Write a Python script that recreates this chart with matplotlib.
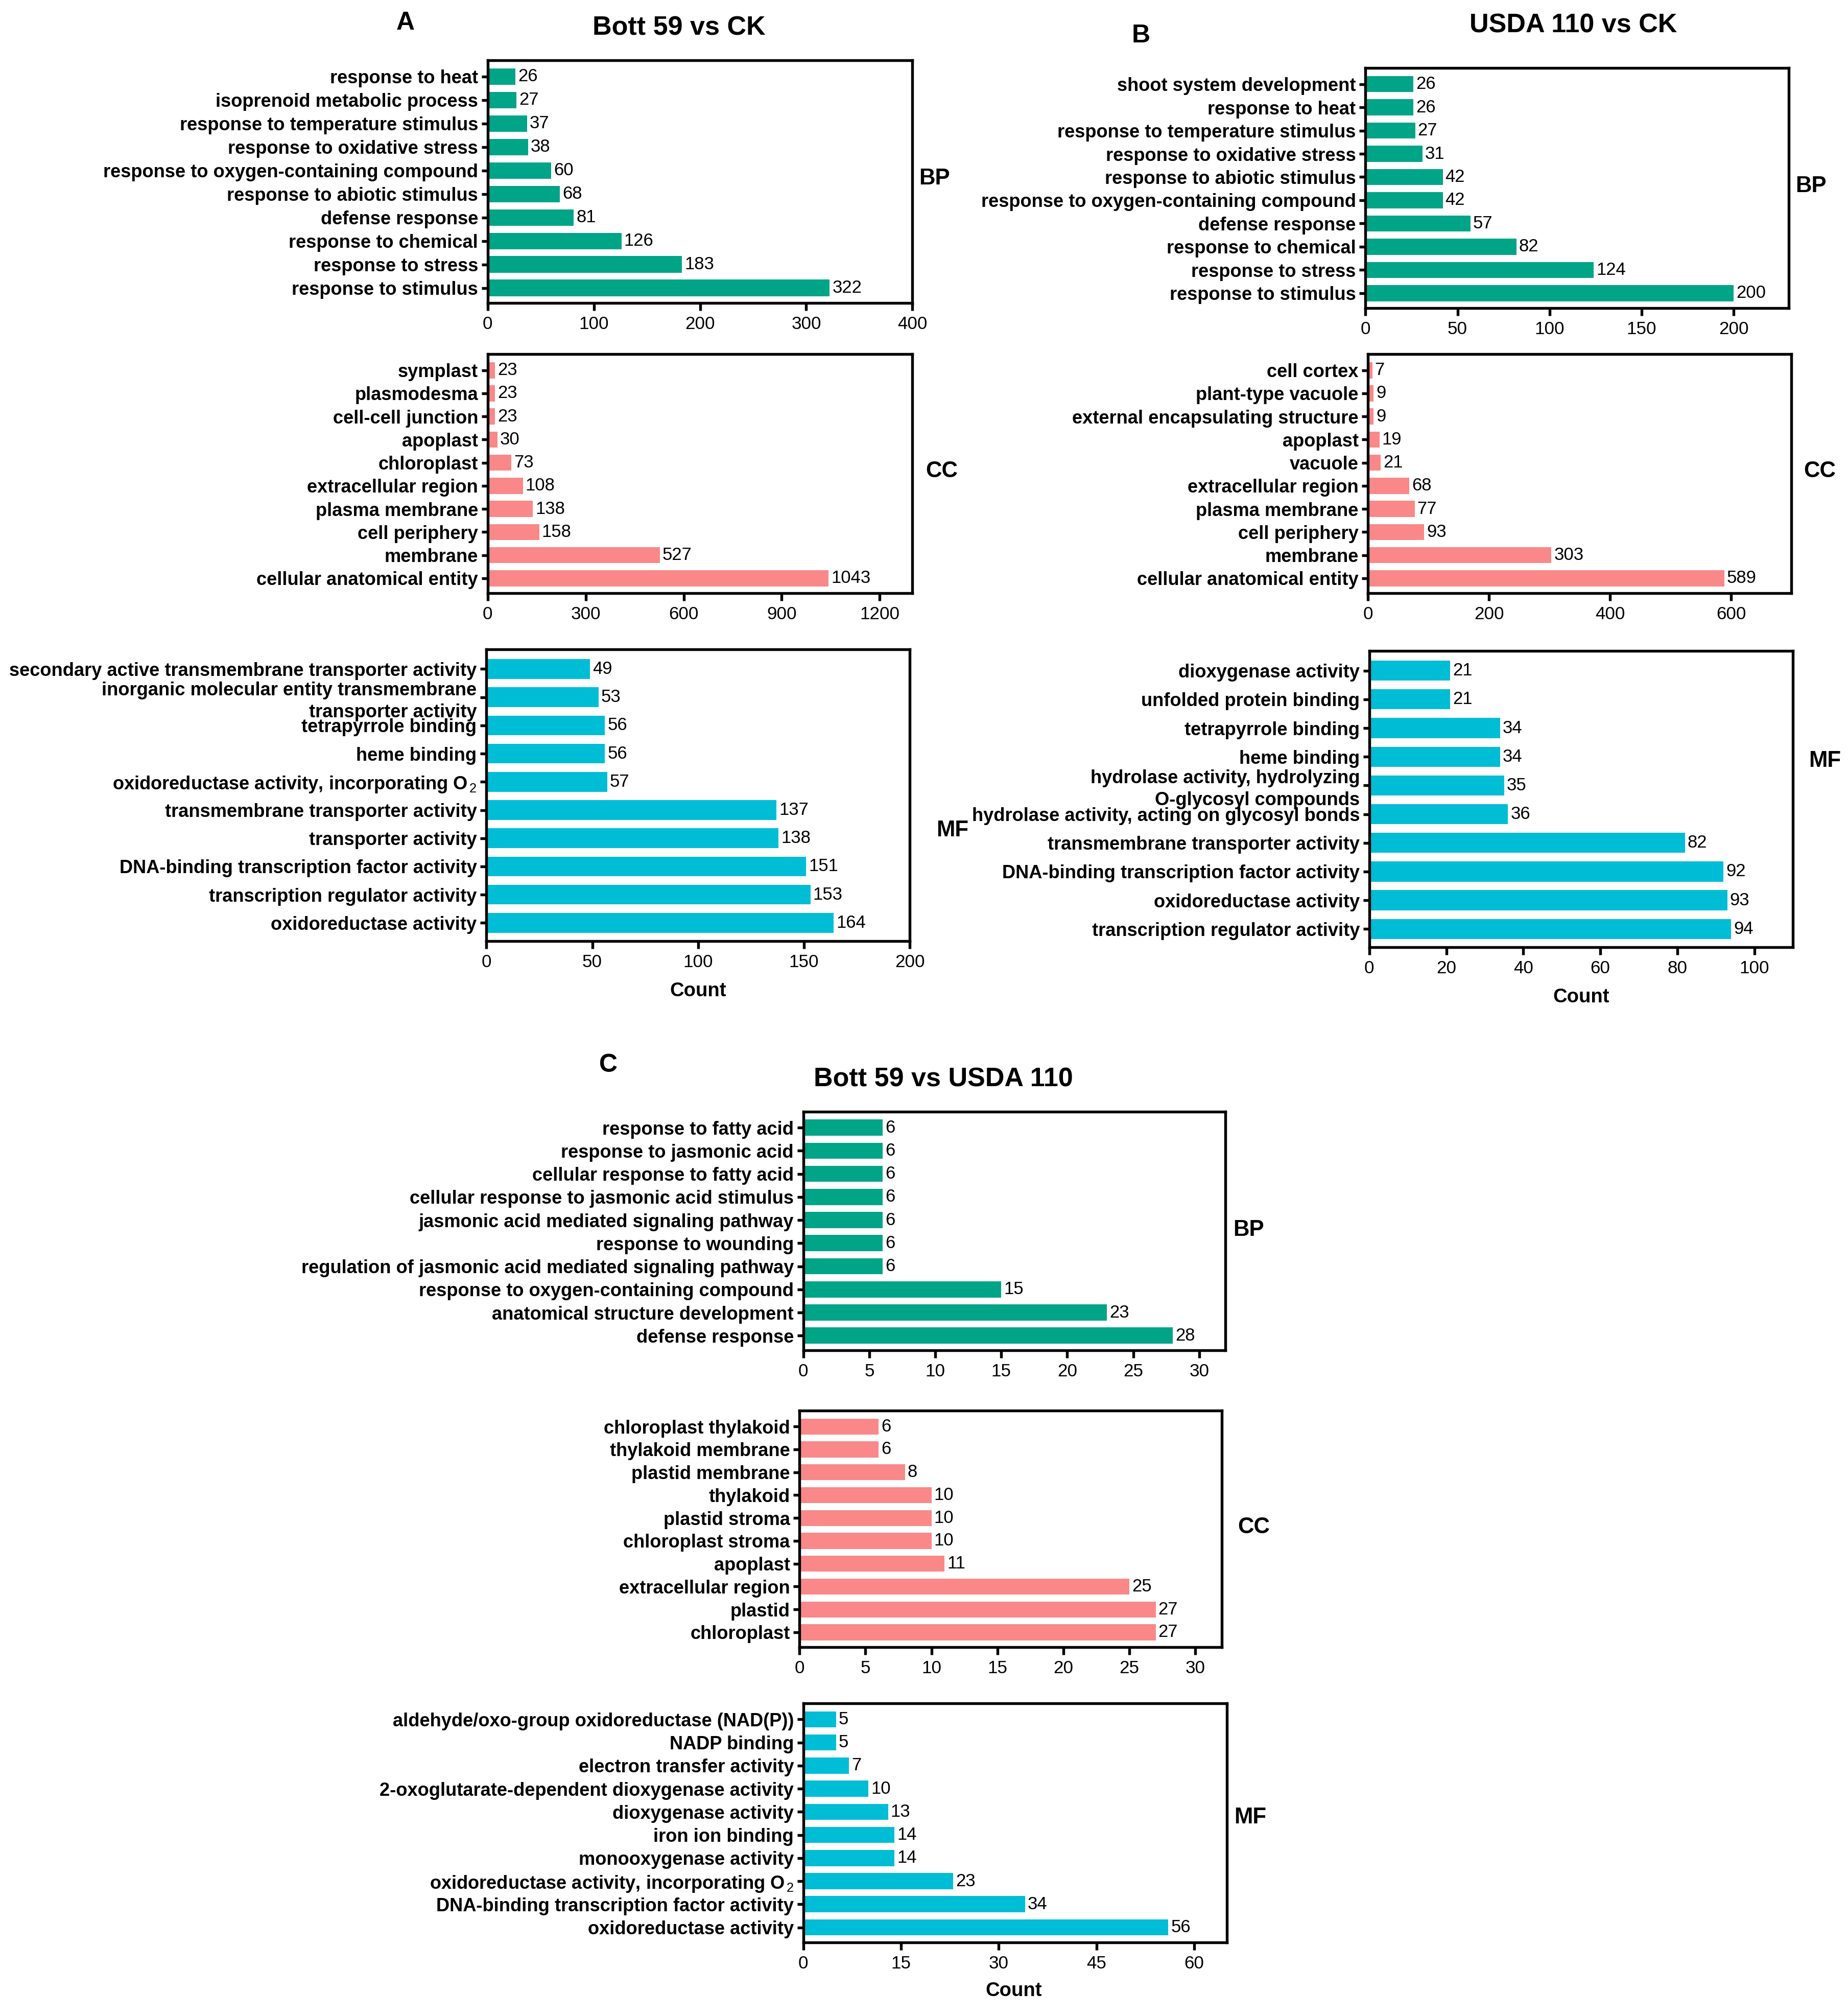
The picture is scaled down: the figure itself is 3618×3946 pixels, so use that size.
import matplotlib
matplotlib.use("Agg")
import matplotlib.pyplot as plt
import numpy as np

plt.rcParams["font.family"] = ["Liberation Sans", "DejaVu Sans"]
plt.rcParams["mathtext.fontset"] = "custom"
plt.rcParams["mathtext.rm"] = "Liberation Sans"
plt.rcParams["mathtext.it"] = "Liberation Sans"
plt.rcParams["mathtext.bf"] = "Liberation Sans:bold"

O2 = "O$_{\\,2}$"

# ---- data (top to bottom as drawn) ----
a_bp_terms = ["response to heat", "isoprenoid metabolic process", "response to temperature stimulus",
              "response to oxidative stress", "response to oxygen-containing compound",
              "response to abiotic stimulus", "defense response", "response to chemical",
              "response to stress", "response to stimulus"]
a_bp_counts = [26, 27, 37, 38, 60, 68, 81, 126, 183, 322]

a_cc_terms = ["symplast", "plasmodesma", "cell-cell junction", "apoplast", "chloroplast",
              "extracellular region", "plasma membrane", "cell periphery", "membrane",
              "cellular anatomical entity"]
a_cc_counts = [23, 23, 23, 30, 73, 108, 138, 158, 527, 1043]

a_mf_terms = ["secondary active transmembrane transporter activity",
              "inorganic molecular entity transmembrane\ntransporter activity",
              "tetrapyrrole binding", "heme binding",
              "oxidoreductase activity, incorporating " + O2,
              "transmembrane transporter activity", "transporter activity",
              "DNA-binding transcription factor activity", "transcription regulator activity",
              "oxidoreductase activity"]
a_mf_counts = [49, 53, 56, 56, 57, 137, 138, 151, 153, 164]

b_bp_terms = ["shoot system development", "response to heat", "response to temperature stimulus",
              "response to oxidative stress", "response to abiotic stimulus",
              "response to oxygen-containing compound", "defense response",
              "response to chemical", "response to stress", "response to stimulus"]
b_bp_counts = [26, 26, 27, 31, 42, 42, 57, 82, 124, 200]

b_cc_terms = ["cell cortex", "plant-type vacuole", "external encapsulating structure", "apoplast",
              "vacuole", "extracellular region", "plasma membrane", "cell periphery", "membrane",
              "cellular anatomical entity"]
b_cc_counts = [7, 9, 9, 19, 21, 68, 77, 93, 303, 589]

b_mf_terms = ["dioxygenase activity", "unfolded protein binding", "tetrapyrrole binding",
              "heme binding", "hydrolase activity, hydrolyzing\nO-glycosyl compounds",
              "hydrolase activity, acting on glycosyl bonds", "transmembrane transporter activity",
              "DNA-binding transcription factor activity", "oxidoreductase activity",
              "transcription regulator activity"]
b_mf_counts = [21, 21, 34, 34, 35, 36, 82, 92, 93, 94]

c_bp_terms = ["response to fatty acid", "response to jasmonic acid", "cellular response to fatty acid",
              "cellular response to jasmonic acid stimulus", "jasmonic acid mediated signaling pathway",
              "response to wounding", "regulation of jasmonic acid mediated signaling pathway",
              "response to oxygen-containing compound", "anatomical structure development",
              "defense response"]
c_bp_counts = [6, 6, 6, 6, 6, 6, 6, 15, 23, 28]

c_cc_terms = ["chloroplast thylakoid", "thylakoid membrane", "plastid membrane", "thylakoid",
              "plastid stroma", "chloroplast stroma", "apoplast", "extracellular region",
              "plastid", "chloroplast"]
c_cc_counts = [6, 6, 8, 10, 10, 10, 11, 25, 27, 27]

c_mf_terms = ["aldehyde/oxo-group oxidoreductase (NAD(P))", "NADP binding", "electron transfer activity",
              "2-oxoglutarate-dependent dioxygenase activity", "dioxygenase activity",
              "iron ion binding", "monooxygenase activity",
              "oxidoreductase activity, incorporating " + O2,
              "DNA-binding transcription factor activity", "oxidoreductase activity"]
c_mf_counts = [5, 5, 7, 10, 13, 14, 14, 23, 34, 56]

BP_COLOR = "#00A487"
CC_COLOR = "#FA8888"
MF_COLOR = "#00BDD6"

W, H = 1440.0, 1570.5
fig = plt.figure(figsize=(3618 / 300, 3946 / 300), dpi=300)


def box(l, t, r, b):
    return [l / W, 1 - b / H, (r - l) / W, (b - t) / H]


def ftext(x, y, s, **kw):
    fig.text(x / W, 1 - y / H, s, ha="center", va="center", **kw)


def bars(rect, terms, counts, color, xmax, step, tag, tag_xy):
    ax = fig.add_axes(box(*rect))
    y = np.arange(len(terms))
    ax.barh(y, counts, height=0.7, color=color)
    ax.set_ylim(len(terms) - 1 + 0.64, -0.69)
    ax.set_xlim(0, xmax)
    ax.set_xticks(np.arange(0, xmax + 0.1, step))
    ax.set_yticks(y)
    ax.set_yticklabels(terms, fontweight="bold", fontsize=8.7, linespacing=1.3)
    for yi, v in zip(y, counts):
        ax.annotate(str(v), (v, yi), xytext=(1.2, 0), textcoords="offset points",
                    ha="left", va="center", fontsize=8.3)
    for sp in ax.spines.values():
        sp.set_linewidth(1.3)
    ax.tick_params(axis="y", length=3, width=1.3, pad=1.5)
    ax.tick_params(axis="x", length=3.5, width=1.3, labelsize=8.4, pad=2.5)
    ftext(tag_xy[0], tag_xy[1], tag, fontsize=10.5, fontweight="bold")
    return ax


# panel A
bars((380, 47, 711, 236), a_bp_terms, a_bp_counts, BP_COLOR, 400, 100, "BP", (728, 139))
bars((380, 276, 711, 462), a_cc_terms, a_cc_counts, CC_COLOR, 1300, 300, "CC", (734, 367))
bars((379, 506, 709, 733), a_mf_terms, a_mf_counts, MF_COLOR, 200, 50, "MF", (742, 647))
ftext(544, 772, "Count", fontsize=9.2, fontweight="bold")
ftext(316, 18, "A", fontsize=12, fontweight="bold")
ftext(529, 22, "Bott 59 vs CK", fontsize=12.5, fontweight="bold")

# panel B
bars((1064, 53, 1394, 240), b_bp_terms, b_bp_counts, BP_COLOR, 230, 50, "BP", (1411, 145))
bars((1066, 276, 1396, 462), b_cc_terms, b_cc_counts, CC_COLOR, 700, 200, "CC", (1418, 367))
bars((1067, 507, 1397, 738), b_mf_terms, b_mf_counts, MF_COLOR, 110, 20, "MF", (1422, 593))
ftext(1232, 777, "Count", fontsize=9.2, fontweight="bold")
ftext(889, 28, "B", fontsize=12, fontweight="bold")
ftext(1226, 20, "USDA 110 vs CK", fontsize=12.5, fontweight="bold")

# panel C
bars((626, 866, 955, 1052), c_bp_terms, c_bp_counts, BP_COLOR, 32, 5, "BP", (973, 958))
bars((623, 1099, 952, 1283), c_cc_terms, c_cc_counts, CC_COLOR, 32, 5, "CC", (977, 1190))
bars((626, 1327, 956, 1513), c_mf_terms, c_mf_counts, MF_COLOR, 65, 15, "MF", (974, 1416))
ftext(790, 1551, "Count", fontsize=9.2, fontweight="bold")
ftext(474, 830, "C", fontsize=12, fontweight="bold")
ftext(735, 841, "Bott 59 vs USDA 110", fontsize=12.5, fontweight="bold")

fig.savefig("out.png", dpi=300, facecolor="white")
